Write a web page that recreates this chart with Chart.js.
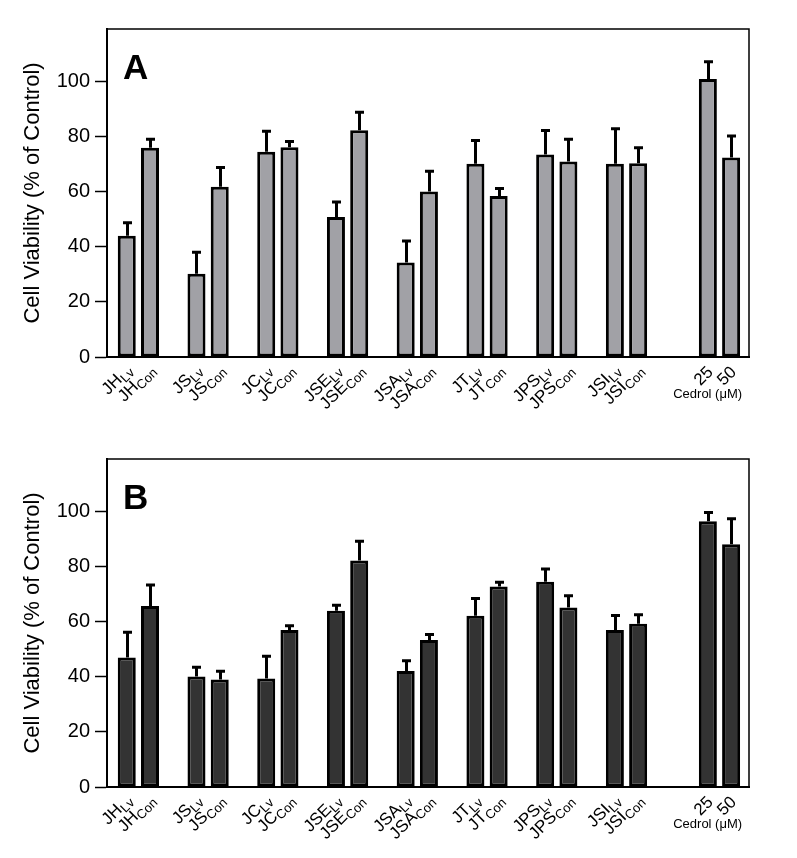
<!DOCTYPE html>
<html>
<head>
<meta charset="utf-8">
<script src="https://cdn.jsdelivr.net/npm/chart.js@4"></script>
<style>
  html, body { margin: 0; padding: 0; background: #fff; overflow: hidden; }
  .panel { position: absolute; left: 0; width: 797px; height: 430px; }
  #panelA { top: 0; }
  #panelB { top: 430px; }
</style>
</head>
<body>
<div class="panel" id="panelA"><canvas id="chartA" width="797" height="430"></canvas></div>
<div class="panel" id="panelB"><canvas id="chartB" width="797" height="430"></canvas></div>
<script>
// ── DATA ────────────────────────────────────────────────
const extracts    = ['JH', 'JS', 'JC', 'JSE', 'JSA', 'JT', 'JPS', 'JSI'];
const cedrolDoses = ['25', '50'];
const yTicks      = [0, 20, 40, 60, 80, 100];

// Panel A
const viabA_Lv  = [44.0, 30.2, 74.5, 50.8, 34.3, 70.1, 73.5, 70.1];
const viabA_Con = [75.9, 61.8, 76.1, 82.3, 60.0, 58.4, 70.9, 70.3];
const viabA_Ced = [100.9, 72.4];
const sdA_Lv    = [4.9, 8.0, 7.6, 5.6, 8.0, 8.6, 8.9, 12.9];
const sdA_Con   = [3.3, 7.1, 2.3, 6.7, 7.6, 2.9, 8.3, 5.8];
const sdA_Ced   = [6.4, 8.0];

// Panel B
const viabB_Lv  = [47.0, 40.1, 39.4, 63.9, 42.1, 62.1, 74.5, 57.0];
const viabB_Con = [65.7, 39.0, 57.0, 82.2, 53.3, 72.7, 65.1, 59.2];
const viabB_Ced = [96.4, 88.1];
const sdB_Lv    = [9.3, 3.5, 8.2, 2.2, 3.9, 6.5, 4.8, 5.4];
const sdB_Con   = [7.8, 3.2, 1.7, 7.1, 2.2, 1.8, 4.5, 3.5];
const sdB_Ced   = [3.4, 9.4];

const FONT = "'Liberation Sans', Arial, Helvetica, sans-serif";

// ── BUILD POINTS (slot index along x) ───────────────────
function buildSeries(lv, con, ced, sdLv, sdCon, sdCed) {
  const pts = [], sds = [], labels = [];
  extracts.forEach((name, g) => {
    pts.push({ x: 3 * g,     y: lv[g] });  sds.push(sdLv[g]);  labels.push([name, 'Lv']);
    pts.push({ x: 3 * g + 1, y: con[g] }); sds.push(sdCon[g]); labels.push([name, 'Con']);
  });
  const start = extracts.length * 3 + 1;
  cedrolDoses.forEach((d, i) => {
    pts.push({ x: start + i, y: ced[i] }); sds.push(sdCed[i]); labels.push([d, '']);
  });
  return { pts, sds, labels };
}

// ── DECOR: frame, error bars, labels ────────────────────
const panelDecor = {
  id: 'panelDecor',
  afterDraw(chart, args, opts) {
    const { ctx, chartArea: a, scales: { x, y } } = chart;
    const s = opts.series;
    ctx.save();

    // top + right frame
    ctx.strokeStyle = '#000';
    ctx.lineWidth = 1.5;
    ctx.beginPath();
    ctx.moveTo(a.left, a.top);
    ctx.lineTo(a.right, a.top);
    ctx.lineTo(a.right, a.bottom);
    ctx.stroke();

    // error bars (upper only)
    ctx.lineWidth = 3;
    ctx.lineCap = 'butt';
    s.pts.forEach((p, i) => {
      const px = Math.round(x.getPixelForValue(p.x)) + 0.5;
      const yTop = y.getPixelForValue(p.y);
      const yErr = y.getPixelForValue(p.y + s.sds[i]);
      ctx.beginPath();
      ctx.moveTo(px, yTop);
      ctx.lineTo(px, yErr);
      ctx.moveTo(px - 4.5, yErr + 0.5);
      ctx.lineTo(px + 4.5, yErr + 0.5);
      ctx.stroke();
    });

    // rotated category labels with subscripts
    ctx.fillStyle = '#000';
    ctx.textBaseline = 'alphabetic';
    ctx.textAlign = 'left';
    s.pts.forEach((p, i) => {
      const [main, sub] = s.labels[i];
      const px = x.getPixelForValue(p.x);
      ctx.save();
      ctx.translate(px + 6, a.bottom + (sub ? 14 : 16));
      ctx.rotate(-Math.PI / 4);
      ctx.font = '17px ' + FONT;
      const wm = ctx.measureText(main).width;
      ctx.font = '13px ' + FONT;
      const ws = sub ? ctx.measureText(sub).width : 0;
      ctx.font = '17px ' + FONT;
      ctx.fillText(main, -(wm + ws), 0);
      if (sub) {
        ctx.font = '13px ' + FONT;
        ctx.fillText(sub, -ws, 3.5);
      }
      ctx.restore();
    });

    // Cedrol (µM) caption
    const lastX = x.getPixelForValue(s.pts[s.pts.length - 1].x);
    ctx.font = '13px ' + FONT;
    ctx.textAlign = 'right';
    ctx.fillText('Cedrol (\u03BCM)', lastX + 11, a.bottom + 41);

    // y-axis title
    ctx.save();
    ctx.translate(33, (a.top + a.bottom) / 2);
    ctx.rotate(-Math.PI / 2);
    ctx.textAlign = 'center';
    ctx.textBaseline = 'middle';
    ctx.font = '22px ' + FONT;
    ctx.fillText('Cell Viability (% of Control)', 0, 0);
    ctx.restore();

    // panel letter
    ctx.font = 'bold 35px ' + FONT;
    ctx.textAlign = 'left';
    ctx.fillText(opts.letter, a.left + 16, a.top + 50);

    ctx.restore();
  }
};

// ── CHART FACTORY ───────────────────────────────────────
function makeChart(canvasId, letter, series, fill) {
  return new Chart(document.getElementById(canvasId), {
    type: 'bar',
    data: {
      datasets: [{
        data: series.pts,
        backgroundColor: fill,
        borderColor: '#000',
        borderWidth: 3,
        borderSkipped: false,
        barPercentage: 0.775,
        categoryPercentage: 1
      }]
    },
    options: {
      responsive: false,
      animation: false,
      devicePixelRatio: 1,
      layout: { padding: { left: 0, right: 48, top: 29, bottom: 0 } },
      plugins: {
        legend: { display: false },
        tooltip: { enabled: false },
        panelDecor: { letter, series }
      },
      scales: {
        x: {
          type: 'linear',
          offset: false,
          min: -0.85,
          max: 26.77,
          ticks: { display: false },
          grid: { display: false, offset: false },
          border: { display: true, color: '#000', width: 2 },
          afterFit(scale) { scale.height = 73; }
        },
        y: {
          min: 0,
          max: 119,
          afterBuildTicks(scale) { scale.ticks = yTicks.map(v => ({ value: v })); },
          ticks: { color: '#000', padding: 5, font: { family: FONT, size: 20 } },
          grid: {
            drawOnChartArea: false,
            drawTicks: true,
            tickLength: 12,
            tickColor: '#000',
            tickWidth: 1.5
          },
          border: { display: true, color: '#000', width: 2 },
          afterFit(scale) { scale.width = 107; }
        }
      }
    },
    plugins: [panelDecor]
  });
}

makeChart('chartA', 'A', buildSeries(viabA_Lv, viabA_Con, viabA_Ced, sdA_Lv, sdA_Con, sdA_Ced), '#a1a1a6');
makeChart('chartB', 'B', buildSeries(viabB_Lv, viabB_Con, viabB_Ced, sdB_Lv, sdB_Con, sdB_Ced), '#333333');
</script>
</body>
</html>
